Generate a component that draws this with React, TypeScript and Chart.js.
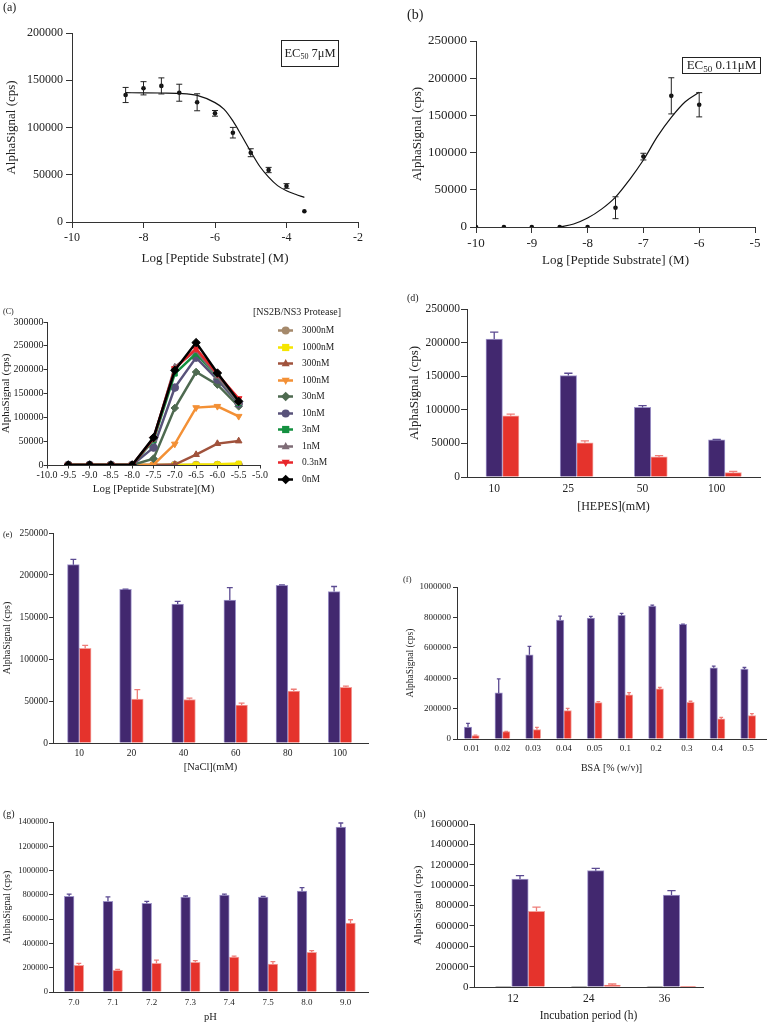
import React, { useEffect, useRef } from "react";
import { Chart, registerables } from "chart.js";

Chart.register(...registerables);

const SERIF = "'Liberation Serif', 'Times New Roman', Times, serif";
const AXIS = "#333333";
const TEXT = "#222222";
const BLUE = "#42286F";
const BLUE_EDGE = "#A096CA";
const BLUE_ERR = "#5C4B92";
const RED = "#E5332C";
const RED_EDGE = "#F3A29D";
const RED_ERR = "#EE7D78";
const GREY = "#8C8C8C";

// ---------- (a) ----------
const aLogConc = [-8.5, -8, -7.5, -7, -6.5, -6, -5.5, -5, -4.5, -4, -3.5];
const aSignal = [134400, 141500, 144000, 136800, 126700, 115000, 94500, 73300, 55000, 38100, 11300];
const aSignalErr = [8000, 7000, 8500, 9000, 9000, 3000, 5600, 4200, 2800, 2500, 0];
const aFitLogConc = [-8.5, -8, -7.5, -7, -6.5, -6, -5.75, -5.5, -5.25, -5, -4.75, -4.5, -4.25, -4, -3.75, -3.5];
const aFitSignal = [136800, 136700, 136500, 136100, 134000, 126300, 119500, 107000, 91000, 74500, 59000, 47500, 38500, 33000, 29300, 26000];
const aEC50 = " 7μM";

// ---------- (b) ----------
const bLogConc = [-10, -9.5, -9, -8.5, -8, -7.5, -7, -6.5, -6];
const bSignal = [0, 0, 0, 0, 0, 25900, 94600, 176300, 164300];
const bSignalErr = [0, 0, 0, 0, 0, 14700, 4500, 24300, 16300];
const bFitLogConc = [-8.5, -8.25, -8, -7.75, -7.5, -7.25, -7, -6.75, -6.5, -6.25, -6];
const bFitSignal = [0, 4000, 12000, 24000, 40200, 63400, 90000, 121400, 147300, 168300, 181000];
const bEC50 = " 0.11μM";

// ---------- (c) ----------
const cLogConc = [-9.5, -9, -8.5, -8, -7.5, -7, -6.5, -6, -5.5];
const cLegendTitle = "[NS2B/NS3 Protease]";
const c0nM = [0, 0, 0, 0, 57400, 198700, 256800, 193000, 133600];
const c03nM = [0, 0, 0, 0, 56000, 202200, 244200, 191000, 139300];
const c1nM = [0, 0, 0, 0, 54000, 205600, 240000, 186000, 131000];
const c3nM = [0, 0, 0, 0, 51800, 191700, 233700, 186000, 130000];
const c10nM = [0, 0, 0, 0, 36500, 162400, 225300, 179200, 128800];
const c30nM = [0, 0, 0, 0, 13400, 119600, 195100, 168600, 123100];
const c100nM = [0, 0, 0, 0, 500, 44000, 120400, 123100, 102200];
const c300nM = [0, 0, 0, 0, 0, 1000, 21800, 44900, 50400];
const c1000nM = [0, 0, 0, 0, 0, 0, 1000, 1500, 3000];
const c3000nM = [0, 0, 0, 0, 0, 0, 0, 0, 0];

// ---------- (d) ----------
const dHepes = ["10", "25", "50", "100"];
const dControl = [0, 0, 0, 0];
const dBlue = [205200, 150900, 103600, 55300];
const dBlueErr = [10400, 3500, 2500, 500];
const dRed = [91100, 50800, 29900, 6500];
const dRedErr = [2500, 3000, 2000, 2000];

// ---------- (e) ----------
const eNaCl = ["10", "20", "40", "60", "80", "100"];
const eBlue = [212300, 182900, 165500, 170200, 187700, 180300];
const eBlueErr = [6300, 400, 3200, 14700, 500, 6000];
const eRed = [112600, 52200, 51800, 45100, 61700, 66400];
const eRedErr = [3600, 11400, 1600, 2300, 2300, 1200];

// ---------- (f) ----------
const fBsa = ["0.01", "0.02", "0.03", "0.04", "0.05", "0.1", "0.2", "0.3", "0.4", "0.5"];
const fBlue = [79100, 303300, 553800, 782400, 795600, 813200, 874700, 753800, 468100, 459300];
const fBlueErr = [24000, 92000, 55000, 26000, 11000, 13000, 6500, 2000, 11000, 11000];
const fRed = [22000, 48400, 61500, 186800, 239600, 290100, 329700, 241800, 131900, 153800];
const fRedErr = [4000, 2000, 15000, 15000, 6500, 15000, 9000, 6500, 11000, 13000];

// ---------- (g) ----------
const gPh = ["7.0", "7.1", "7.2", "7.3", "7.4", "7.5", "8.0", "9.0"];
const gBlue = [787800, 746700, 730200, 782400, 798800, 782400, 831800, 1358800];
const gBlueErr = [19000, 36000, 16000, 8000, 8000, 5000, 27000, 33000];
const gRed = [219600, 178400, 236100, 244300, 288200, 230600, 326700, 568200];
const gRedErr = [16500, 8000, 27000, 14000, 8000, 19000, 14000, 27000];

// ---------- (h) ----------
const hHours = ["12", "24", "36"];
const hControl = [6000, 6000, 6000];
const hBlue = [1060100, 1141900, 903100];
const hBlueErr = [33000, 23000, 42000];
const hRed = [742700, 19600, 6500];
const hRedErr = [42000, 10000, 0];

type Box = { x: number; y: number; w: number; h: number };
type Area = { L: number; T: number; R: number; B: number };

function frame(box: Box, area: Area) {
  return {
    padding: { left: 0, top: area.T - box.y, right: box.x + box.w - area.R, bottom: 0 },
    yWidth: area.L - box.x,
    xHeight: box.y + box.h - area.B,
  };
}

const font = (size: number) => ({ family: SERIF, size, weight: "normal" as const, lineHeight: 1.2 });

const errorBarPlugin = {
  id: "errorBars",
  afterDatasetsDraw(chart: any) {
    const ctx = chart.ctx;
    chart.data.datasets.forEach((ds: any, i: number) => {
      const eb = ds.errorBars;
      if (!eb) return;
      const meta = chart.getDatasetMeta(i);
      const yScale = chart.scales[meta.yAxisID];
      ctx.save();
      ctx.strokeStyle = eb.color;
      ctx.lineWidth = eb.width;
      meta.data.forEach((el: any, j: number) => {
        const err = eb.values[j];
        if (!err) return;
        const raw = ds.data[j];
        const v = typeof raw === "number" ? raw : raw.y;
        const x = el.x;
        const yTop = yScale.getPixelForValue(v + err);
        const yBot = yScale.getPixelForValue(eb.both ? v - err : v);
        ctx.beginPath();
        ctx.moveTo(x, yBot);
        ctx.lineTo(x, yTop);
        ctx.moveTo(x - eb.cap / 2, yTop);
        ctx.lineTo(x + eb.cap / 2, yTop);
        if (eb.both) {
          ctx.moveTo(x - eb.cap / 2, yBot);
          ctx.lineTo(x + eb.cap / 2, yBot);
        }
        ctx.stroke();
      });
      ctx.restore();
    });
  },
};

function yAxis(f: any, o: { max: number; step: number; size: number; titleSize: number; tickLen: number; pad: number; title: string }) {
  return {
    type: "linear",
    position: "left",
    min: 0,
    max: o.max,
    afterFit: (s: any) => {
      s.width = f.yWidth;
    },
    border: { display: true, color: AXIS, width: 1 },
    grid: { display: true, drawOnChartArea: false, drawTicks: true, tickLength: o.tickLen, color: AXIS, lineWidth: 1 },
    ticks: { stepSize: o.step, font: font(o.size), color: TEXT, padding: o.pad, callback: (v: any) => String(v) },
    title: { display: true, text: o.title, font: font(o.titleSize), color: TEXT, padding: 0 },
  };
}

function xLinearAxis(f: any, o: { min: number; max: number; step: number; size: number; titleSize: number; tickLen: number; pad: number; title: string; fmt?: (v: number) => string }) {
  return {
    type: "linear",
    position: "bottom",
    min: o.min,
    max: o.max,
    afterFit: (s: any) => {
      s.height = f.xHeight;
    },
    border: { display: true, color: AXIS, width: 1 },
    grid: { display: true, drawOnChartArea: false, drawTicks: true, tickLength: o.tickLen, color: AXIS, lineWidth: 1 },
    ticks: {
      stepSize: o.step,
      autoSkip: false,
      maxRotation: 0,
      font: font(o.size),
      color: TEXT,
      padding: o.pad,
      callback: (v: any) => (o.fmt ? o.fmt(Number(v)) : String(v)),
    },
    title: { display: true, text: o.title, font: font(o.titleSize), color: TEXT, padding: 0 },
  };
}

function xCatAxis(f: any, cats: string[], o: { min: number; max: number; size: number; titleSize: number; pad: number; title: string; labelOffset?: number }) {
  return {
    type: "linear",
    position: "bottom",
    min: o.min,
    max: o.max,
    offset: false,
    afterFit: (s: any) => {
      s.height = f.xHeight;
    },
    afterBuildTicks: (s: any) => {
      s.ticks = cats.map((_, i) => ({ value: i }));
    },
    border: { display: true, color: AXIS, width: 1 },
    grid: { display: false, drawTicks: false, tickLength: 0, offset: false },
    ticks: {
      autoSkip: false,
      maxRotation: 0,
      font: font(o.size),
      color: TEXT,
      padding: o.pad,
      labelOffset: o.labelOffset || 0,
      callback: (v: any) => cats[Math.round(Number(v))] ?? "",
    },
    title: { display: true, text: o.title, font: font(o.titleSize), color: TEXT, padding: 0 },
  };
}

function baseOptions(f: any) {
  return {
    responsive: false,
    maintainAspectRatio: false,
    animation: false,
    devicePixelRatio: 1,
    events: [],
    layout: { padding: f.padding },
    plugins: { legend: { display: false }, tooltip: { enabled: false }, title: { display: false } },
  };
}

function ec50Plugin(box: Box, rect: { x: number; y: number; w: number; h: number }, value: string, size: number) {
  return {
    id: "ec50",
    afterDraw(chart: any) {
      const ctx = chart.ctx;
      const x = Math.round(rect.x - box.x) + 0.5;
      const y = Math.round(rect.y - box.y) + 0.5;
      ctx.save();
      ctx.strokeStyle = TEXT;
      ctx.lineWidth = 1;
      ctx.strokeRect(x, y, rect.w, rect.h);
      const main = `${size}px ${SERIF}`;
      const sub = `${Math.round(size * 0.66)}px ${SERIF}`;
      ctx.font = main;
      const w1 = ctx.measureText("EC").width;
      const w3 = ctx.measureText(value).width;
      ctx.font = sub;
      const w2 = ctx.measureText("50").width;
      let tx = x + (rect.w - (w1 + w2 + w3)) / 2;
      const ty = y + rect.h / 2 + 0.5;
      ctx.fillStyle = TEXT;
      ctx.textBaseline = "middle";
      ctx.textAlign = "left";
      ctx.font = main;
      ctx.fillText("EC", tx, ty);
      tx += w1;
      ctx.font = sub;
      ctx.fillText("50", tx, ty + size * 0.25);
      tx += w2;
      ctx.font = main;
      ctx.fillText(value, tx, ty);
      ctx.restore();
    },
  };
}

function doseChart(
  box: Box,
  area: Area,
  xs: number[],
  ys: number[],
  errs: number[],
  fitX: number[],
  fitY: number[],
  o: { xmin: number; xmax: number; xstep: number; ymax: number; ystep: number; tick: number; title: number },
  ec: { rect: { x: number; y: number; w: number; h: number }; value: string; size: number }
) {
  const f = frame(box, area);
  return {
    type: "line",
    data: {
      datasets: [
        {
          label: "fit",
          data: fitX.map((x, i) => ({ x, y: fitY[i] })),
          borderColor: "#111",
          borderWidth: 1.2,
          pointRadius: 0,
          cubicInterpolationMode: "monotone",
          fill: false,
        },
        {
          label: "data",
          data: xs.map((x, i) => ({ x, y: ys[i] })),
          showLine: false,
          pointRadius: 2.3,
          pointBackgroundColor: "#111",
          pointBorderColor: "#111",
          pointBorderWidth: 0,
          errorBars: { values: errs, both: true, color: "#222", cap: 6, width: 1 },
        },
      ],
    },
    options: {
      ...baseOptions(f),
      scales: {
        x: xLinearAxis(f, { min: o.xmin, max: o.xmax, step: o.xstep, size: o.tick, titleSize: o.title, tickLen: 6, pad: 3, title: "Log [Peptide Substrate] (M)" }),
        y: yAxis(f, { max: o.ymax, step: o.ystep, size: o.tick, titleSize: o.title, tickLen: 6, pad: 3, title: "AlphaSignal (cps)" }),
      },
    },
    plugins: [errorBarPlugin, ec50Plugin(box, ec.rect, ec.value, ec.size)],
  };
}

// ---- boxes ----
const boxA: Box = { x: 4, y: 0, w: 372, h: 266 };
const areaA: Area = { L: 72, T: 33, R: 358, B: 222 };
const boxB: Box = { x: 410, y: 0, w: 357, h: 268 };
const areaB: Area = { L: 476, T: 41, R: 755, B: 227 };
const boxC: Box = { x: 0, y: 300, w: 352, h: 196 };
const areaC: Area = { L: 47, T: 322, R: 260, B: 465 };
const boxD: Box = { x: 407, y: 290, w: 360, h: 224 };
const areaD: Area = { L: 467, T: 309, R: 760, B: 477 };
const boxE: Box = { x: 1, y: 515, w: 375, h: 259 };
const areaE: Area = { L: 53, T: 533, R: 368, B: 743 };
const boxF: Box = { x: 405, y: 568, w: 362, h: 206 };
const areaF: Area = { L: 457, T: 587, R: 766, B: 739 };
const boxG: Box = { x: 1, y: 800, w: 375, h: 224 };
const areaG: Area = { L: 53, T: 822, R: 368, B: 992 };
const boxH: Box = { x: 412, y: 800, w: 320, h: 223 };
const areaH: Area = { L: 474, T: 824, R: 703, B: 987 };

function buildA() {
  return doseChart(boxA, areaA, aLogConc, aSignal, aSignalErr, aFitLogConc, aFitSignal,
    { xmin: -10, xmax: -2, xstep: 2, ymax: 200000, ystep: 50000, tick: 12, title: 13 },
    { rect: { x: 281, y: 40, w: 57, h: 26 }, value: aEC50, size: 12.5 });
}

function buildB() {
  return doseChart(boxB, areaB, bLogConc, bSignal, bSignalErr, bFitLogConc, bFitSignal,
    { xmin: -10, xmax: -5, xstep: 1, ymax: 250000, ystep: 50000, tick: 13, title: 13 },
    { rect: { x: 682, y: 57, w: 78, h: 16 }, value: bEC50, size: 13 });
}

function drawMarker(ctx: any, style: string, rot: number, x: number, y: number, r: number, color: string) {
  ctx.save();
  ctx.fillStyle = color;
  ctx.beginPath();
  if (style === "circle") {
    ctx.arc(x, y, r, 0, Math.PI * 2);
  } else if (style === "rect") {
    ctx.rect(x - r * 0.9, y - r * 0.9, r * 1.8, r * 1.8);
  } else if (style === "triangle") {
    const s = rot === 180 ? -1 : 1;
    ctx.moveTo(x, y - s * r * 1.1);
    ctx.lineTo(x + r, y + s * r * 0.7);
    ctx.lineTo(x - r, y + s * r * 0.7);
    ctx.closePath();
  } else {
    ctx.moveTo(x, y - r * 1.2);
    ctx.lineTo(x + r * 1.2, y);
    ctx.lineTo(x, y + r * 1.2);
    ctx.lineTo(x - r * 1.2, y);
    ctx.closePath();
  }
  ctx.fill();
  ctx.restore();
}

const cLegendPlugin = {
  id: "cLegend",
  afterDraw(chart: any) {
    const ctx = chart.ctx;
    ctx.save();
    ctx.fillStyle = TEXT;
    ctx.textBaseline = "middle";
    ctx.textAlign = "left";
    ctx.font = `10px ${SERIF}`;
    ctx.fillText(cLegendTitle, 253, 12.5);
    const items = [...chart.data.datasets].reverse();
    items.forEach((ds: any, k: number) => {
      const y = Math.round(30 + 16.52 * k) + 0.5;
      ctx.strokeStyle = ds.borderColor;
      ctx.lineWidth = 2.5;
      ctx.beginPath();
      ctx.moveTo(278, y);
      ctx.lineTo(293, y);
      ctx.stroke();
      drawMarker(ctx, ds.pointStyle, ds.pointRotation || 0, 285.7, y, 4, ds.borderColor);
      ctx.fillStyle = TEXT;
      ctx.font = `9.5px ${SERIF}`;
      ctx.fillText(ds.label, 302, y);
    });
    ctx.restore();
  },
};

function buildC() {
  const f = frame(boxC, areaC);
  const series = [
    { label: "0nM", data: c0nM, color: "#000000", style: "rectRot", rot: 0, r: 4.2 },
    { label: "0.3nM", data: c03nM, color: "#E8262B", style: "triangle", rot: 180, r: 3.8 },
    { label: "1nM", data: c1nM, color: "#7E6C76", style: "triangle", rot: 0, r: 3.8 },
    { label: "3nM", data: c3nM, color: "#149040", style: "rect", rot: 0, r: 3.5 },
    { label: "10nM", data: c10nM, color: "#58527A", style: "circle", rot: 0, r: 3.8 },
    { label: "30nM", data: c30nM, color: "#4E6A50", style: "rectRot", rot: 0, r: 3.8 },
    { label: "100nM", data: c100nM, color: "#F39035", style: "triangle", rot: 180, r: 3.8 },
    { label: "300nM", data: c300nM, color: "#A0523C", style: "triangle", rot: 0, r: 3.8 },
    { label: "1000nM", data: c1000nM, color: "#F5E500", style: "rect", rot: 0, r: 3.5 },
    { label: "3000nM", data: c3000nM, color: "#A5896B", style: "circle", rot: 0, r: 3.8 },
  ];
  return {
    type: "line",
    data: {
      datasets: series.map((s) => ({
        label: s.label,
        data: cLogConc.map((x, i) => ({ x, y: s.data[i] })),
        borderColor: s.color,
        backgroundColor: s.color,
        borderWidth: 2.5,
        pointStyle: s.style,
        pointRotation: s.rot,
        pointRadius: s.r,
        pointBackgroundColor: s.color,
        pointBorderColor: s.color,
        pointBorderWidth: 1,
        tension: 0,
        fill: false,
      })),
    },
    options: {
      ...baseOptions(f),
      scales: {
        x: xLinearAxis(f, { min: -10, max: -5, step: 0.5, size: 10, titleSize: 11, tickLen: 3.5, pad: 1, title: "Log [Peptide Substrate](M)", fmt: (v) => v.toFixed(1) }),
        y: yAxis(f, { max: 300000, step: 50000, size: 10, titleSize: 11, tickLen: 3.5, pad: 0, title: "AlphaSignal (cps)" }),
      },
    },
    plugins: [cLegendPlugin],
  };
}

type BarSeries = { label: string; data: number[]; err?: number[]; color: string; edge: string; errColor: string };

function barChart(
  box: Box,
  area: Area,
  cats: string[],
  series: BarSeries[],
  o: {
    xmin: number; xmax: number; barW: number; ymax: number; ystep: number;
    ytick: number; xtick: number; yTitleSize: number; xTitleSize: number; tickLen: number;
    ypad: number; xpad: number; yTitle: string; xTitle: string; labelOffset?: number;
  }
) {
  const f = frame(box, area);
  return {
    type: "bar",
    data: {
      datasets: series.map((s) => ({
        label: s.label,
        data: s.data.map((y, i) => ({ x: i, y })),
        backgroundColor: s.color,
        borderColor: s.edge,
        borderWidth: 1,
        borderSkipped: "bottom",
        barThickness: o.barW,
        errorBars: s.err ? { values: s.err, both: false, color: s.errColor, cap: o.barW * 0.5, width: 1.3 } : undefined,
      })),
    },
    options: {
      ...baseOptions(f),
      scales: {
        x: xCatAxis(f, cats, { min: o.xmin, max: o.xmax, size: o.xtick, titleSize: o.xTitleSize, pad: o.xpad, title: o.xTitle, labelOffset: o.labelOffset }),
        y: yAxis(f, { max: o.ymax, step: o.ystep, size: o.ytick, titleSize: o.yTitleSize, tickLen: o.tickLen, pad: o.ypad, title: o.yTitle }),
      },
    },
    plugins: [errorBarPlugin],
  };
}

const blueS = (data: number[], err: number[]): BarSeries => ({ label: "substrate", data, err, color: BLUE, edge: BLUE_EDGE, errColor: BLUE_ERR });
const redS = (data: number[], err: number[]): BarSeries => ({ label: "control", data, err, color: RED, edge: RED_EDGE, errColor: RED_ERR });

function buildD() {
  return barChart(boxD, areaD, dHepes,
    [{ label: "blank", data: dControl, color: "rgba(0,0,0,0)", edge: "rgba(0,0,0,0)", errColor: GREY }, blueS(dBlue, dBlueErr), redS(dRed, dRedErr)],
    { xmin: -0.367, xmax: 3.584, barW: 16.5, ymax: 250000, ystep: 50000, ytick: 11.5, xtick: 11.5, yTitleSize: 13, xTitleSize: 12, tickLen: 6, ypad: 1, xpad: 5, yTitle: "AlphaSignal (cps)", xTitle: "[HEPES](mM)" });
}

function buildE() {
  return barChart(boxE, areaE, eNaCl, [blueS(eBlue, eBlueErr), redS(eRed, eRedErr)],
    { xmin: -0.504, xmax: 5.537, barW: 11.8, ymax: 250000, ystep: 50000, ytick: 9.5, xtick: 9.5, yTitleSize: 10, xTitleSize: 10.5, tickLen: 4, ypad: 1, xpad: 5, yTitle: "AlphaSignal (cps)", xTitle: "[NaCl](mM)" });
}

function buildF() {
  return barChart(boxF, areaF, fBsa, [blueS(fBlue, fBlueErr), redS(fRed, fRedErr)],
    { xmin: -0.48, xmax: 9.58, barW: 7.5, ymax: 1000000, ystep: 200000, ytick: 9, xtick: 9, yTitleSize: 9.5, xTitleSize: 10, tickLen: 4, ypad: 2, xpad: 4.5, yTitle: "AlphaSignal (cps)", xTitle: "BSA [% (w/v)]" });
}

function buildG() {
  return barChart(boxG, areaG, gPh, [blueS(gBlue, gBlueErr), redS(gRed, gRedErr)],
    { xmin: -0.541, xmax: 7.575, barW: 9.7, ymax: 1400000, ystep: 200000, ytick: 8.5, xtick: 9, yTitleSize: 10, xTitleSize: 10.5, tickLen: 4, ypad: 1, xpad: 5, yTitle: "AlphaSignal (cps)", xTitle: "pH" });
}

function buildH() {
  return barChart(boxH, areaH, hHours,
    [{ label: "blank", data: hControl, color: GREY, edge: "#9A9A9A", errColor: GREY }, blueS(hBlue, hBlueErr), redS(hRed, hRedErr)],
    { xmin: -0.607, xmax: 2.416, barW: 16.5, ymax: 1600000, ystep: 200000, ytick: 11, xtick: 11.5, yTitleSize: 11, xTitleSize: 11.5, tickLen: 4.5, ypad: 1, xpad: 5, yTitle: "AlphaSignal (cps)", xTitle: "Incubation period (h)", labelOffset: -7 });
}

function ChartCanvas({ box, build }: { box: Box; build: () => any }) {
  const ref = useRef<HTMLCanvasElement | null>(null);
  useEffect(() => {
    if (!ref.current) return;
    const chart = new Chart(ref.current, build() as any);
    return () => chart.destroy();
  }, []);
  return (
    <canvas
      ref={ref}
      width={box.w}
      height={box.h}
      style={{ position: "absolute", left: box.x, top: box.y, width: box.w, height: box.h }}
    />
  );
}

const panelLabels = [
  { text: "(a)", x: 3, y: 7.5, size: 12 },
  { text: "(b)", x: 407, y: 15, size: 14 },
  { text: "(C)", x: 3, y: 312, size: 8 },
  { text: "(d)", x: 407, y: 297.5, size: 10 },
  { text: "(e)", x: 3, y: 534, size: 8.5 },
  { text: "(f)", x: 403, y: 579, size: 8.5 },
  { text: "(g)", x: 3, y: 813.5, size: 10 },
  { text: "(h)", x: 414, y: 813.5, size: 10 },
];

const panels: { key: string; box: Box; build: () => any }[] = [
  { key: "a", box: boxA, build: buildA },
  { key: "b", box: boxB, build: buildB },
  { key: "c", box: boxC, build: buildC },
  { key: "d", box: boxD, build: buildD },
  { key: "e", box: boxE, build: buildE },
  { key: "f", box: boxF, build: buildF },
  { key: "g", box: boxG, build: buildG },
  { key: "h", box: boxH, build: buildH },
];

export default function App() {
  return (
    <div style={{ position: "absolute", left: 0, top: 0, width: 767, height: 1025, background: "#ffffff", overflow: "hidden" }}>
      {panels.map((p) => (
        <ChartCanvas key={p.key} box={p.box} build={p.build} />
      ))}
      {panelLabels.map((l) => (
        <div
          key={l.text}
          style={{
            position: "absolute",
            left: l.x,
            top: l.y - l.size * 0.6,
            fontFamily: SERIF,
            fontSize: l.size,
            lineHeight: `${l.size * 1.2}px`,
            color: TEXT,
            whiteSpace: "nowrap",
          }}
        >
          {l.text}
        </div>
      ))}
    </div>
  );
}
